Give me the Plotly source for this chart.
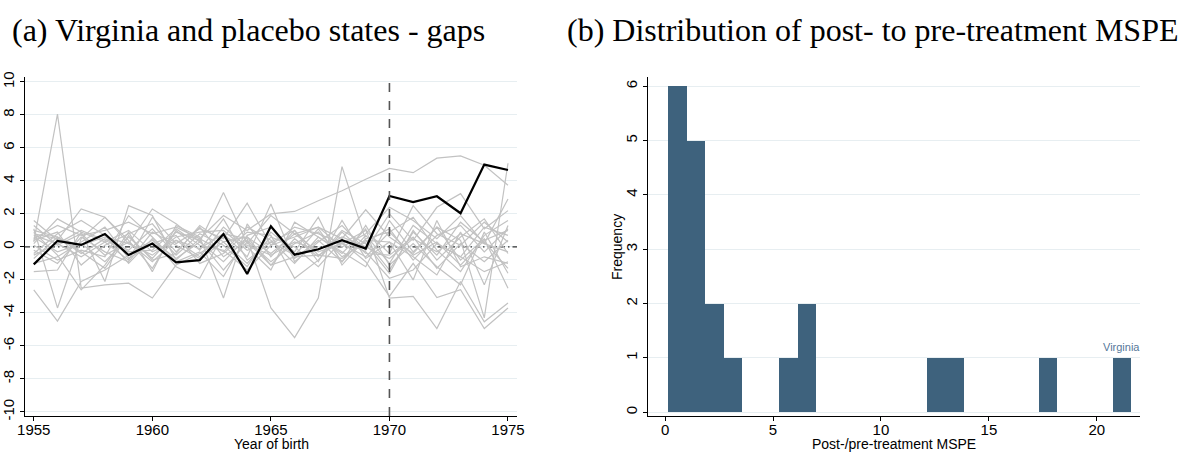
import plotly.graph_objects as go

# ---------------- data ----------------
years = list(range(1955, 1976))

virginia_gap = [-1.06, 0.37, 0.12, 0.78, -0.49, 0.20, -0.94, -0.80, 0.78, -1.64, 1.25,
                -0.47, -0.14, 0.41, -0.10, 3.09, 2.72, 3.07, 2.04, 4.99, 4.66]

placebo_gaps = {
    "s01": [0.3, 8.05, -2.5, -2.3, -2.2, -3.1, -1.1, -0.4, 0.6, 0.1, -0.5, 0.3, -0.2, 0.6, 0.0, -0.7, 0.5, -0.3, 0.8, 0.2, -0.3],
    "s02": [-2.6, -4.5, -2.1, -1.4, -0.5, 0.4, -0.7, 0.3, -0.9, 0.6, -0.4, 0.8, -0.3, 0.2, -0.6, 0.9, -0.5, 0.3, -1.1, 0.4, 1.0],
    "s03": [1.1, -3.7, 0.5, 1.8, 0.4, -1.3, 1.0, -0.2, 1.7, -0.8, 0.3, -0.5, 1.1, -0.9, 0.7, -1.0, 1.3, 0.2, -0.6, 1.2, 0.7],
    "s04": [0.7, 0.2, -0.6, 0.3, 1.0, -0.3, 0.4, -0.1, 0.8, 0.5, -3.7, -5.5, -3.1, 4.87, 0.4, -1.4, 0.9, -0.5, 1.5, 0.3, -1.3],
    "s05": [0.5, 1.3, 0.7, 1.0, 1.5, 0.8, 1.2, 0.5, 1.9, 1.0, 2.0, 2.15, 2.8, 3.4, 4.1, 4.76, 4.5, 5.38, 5.52, 4.95, 3.74],
    "s06": [1.6, 0.4, 2.3, 1.8, 0.2, 2.3, 1.4, 0.3, 3.3, 0.2, 1.9, 0.8, 1.2, 0.5, 2.25, 0.6, -0.4, 1.2, 0.4, -4.3, 5.07],
    "s07": [-1.5, -1.4, 0.9, -2.1, 2.5, 1.9, -0.8, 0.5, -0.3, 1.2, 0.4, -1.0, 0.6, -0.4, 1.1, -3.1, -3.0, -4.95, -2.1, -4.54, -3.4],
    "s08": [0.9, -0.5, -2.6, -1.1, 0.9, -1.5, 1.3, 0.6, -3.1, 1.4, -0.6, 1.0, -0.5, 0.3, -0.9, -3.0, -1.0, -3.07, -2.6, -4.95, -3.7],
    "s09": [0.2, 1.7, 0.9, 0.3, -0.8, 1.8, 0.2, 1.1, 0.5, 2.65, 0.1, 0.6, 1.2, 0.0, 0.8, 2.4, 1.6, 0.5, 1.9, 0.2, 2.9],
    "s10": [-0.4, 0.8, 1.6, 0.7, -1.0, 0.5, -1.2, -1.9, 0.8, -0.6, 2.6, -0.9, 0.3, 1.3, -0.2, 2.0, 0.4, 2.4, 3.23, 1.1, 2.2],
    "s11": [0.6, -0.3, 0.2, -0.9, 0.6, -0.7, 0.9, 0.4, -1.4, 0.3, -1.1, 0.5, -0.6, 1.0, 0.2, -1.6, 1.0, -0.8, 0.6, 1.7, -0.4],
    "s12": [-0.7, 0.6, -0.4, 0.5, -0.2, 1.1, -0.5, 0.8, 0.1, -1.2, 0.9, -0.3, 1.8, -1.1, 0.5, 0.9, 1.8, -0.2, -1.5, 0.7, 1.6],
    "s13": [1.3, 0.1, 0.8, -0.5, 0.3, -0.9, 0.4, -0.6, 1.2, 0.0, -1.4, 1.5, 0.6, -0.3, -1.2, 1.6, -0.3, 1.2, -0.8, 0.5, -2.5],
    "s14": [-1.0, -0.6, 0.3, 1.2, -0.7, 0.2, 0.7, -1.0, -0.4, 0.9, 0.7, -1.9, -0.8, 0.9, -0.4, -0.5, 0.6, -1.3, 0.2, -0.9, 0.4],
    "s15": [0.4, 0.9, -1.1, 0.1, 0.8, 1.4, -0.3, 1.2, -0.6, 0.4, -0.9, 0.2, 0.9, -0.6, 0.3, 1.1, -0.8, 0.7, 1.3, -0.3, 1.1],
    "s16": [-0.2, -1.0, 0.6, -0.3, -0.9, 0.9, 0.1, -0.7, 0.3, -1.0, 0.6, 0.0, -1.2, 0.4, -0.3, -1.9, -1.4, 0.2, -0.6, -1.5, -0.9],
    "s17": [0.8, 0.5, 0.1, 0.6, 0.2, -0.5, 0.6, 0.9, 1.0, -0.2, 0.3, 1.0, -0.9, 1.6, -0.7, 0.3, -0.6, -1.7, 0.9, -2.3, 1.3],
    "s18": [0.1, -0.8, -0.2, -0.6, 1.9, 0.6, -0.9, -0.3, -1.8, 0.7, 1.2, -0.7, 0.4, -0.9, 1.3, -1.1, 0.2, -1.2, -2.3, 0.9, -1.6],
    "s19": [-0.5, 0.2, 1.0, 0.4, -0.3, -0.2, 1.1, 0.1, -0.2, -1.4, 0.1, 1.2, 0.8, 0.2, 1.0, -0.4, 2.5, 0.8, 0.1, 1.5, 0.3],
    "s20": [1.0, 0.6, -0.3, -1.3, 0.7, -0.8, -0.4, 1.3, 0.3, 0.6, -1.1, -0.6, -0.5, -0.7, 0.4, 0.3, -2.0, 1.6, -1.2, -0.6, -1.0],
}

# histogram of post/pre-treatment MSPE ratios (bin left edges, counts)
mspe_bin_left = [0.14, 1.00, 1.86, 2.72, 5.29, 6.15, 12.15, 13.01, 17.30, 20.73]
mspe_counts = [6, 5, 2, 1, 1, 2, 1, 1, 1, 1]
mspe_bin_width = 0.858
virginia_label = "Virginia"

xticks_a = [1955, 1960, 1965, 1970, 1975]
yticks_a = [-10, -8, -6, -4, -2, 0, 2, 4, 6, 8, 10]
yticklabels_a = ["-10", "-8", "-6", "-4", "-2", "0", "2", "4", "6", "8", "10"]
xticks_b = [0, 5, 10, 15, 20]
yticks_b = [0, 1, 2, 3, 4, 5, 6]
treat_year = 1970

# ---------------- figure ----------------
W, H = 1189, 452
xa_dom = [25 / W, 517 / W]
xb_dom = [648 / W, 1140 / W]
y_dom = [(H - 416) / H, (H - 77) / H]

GRAY = "#c2c2c2"
GRID = "#e7eef1"
BAR = "#3e627d"
FONT = "Liberation Sans, Helvetica, Arial, sans-serif"

fig = go.Figure()

# zero reference line (dash-dot), under the placebo lines
fig.add_trace(go.Scatter(x=[years[0] - 0.37, years[-1] + 0.38], y=[0, 0], mode="lines",
                         line=dict(color="black", width=1, dash="5px,3px,1.5px,3px"),
                         xaxis="x", yaxis="y", showlegend=False, hoverinfo="skip"))

for name, vals in placebo_gaps.items():
    fig.add_trace(go.Scatter(x=years, y=vals, mode="lines",
                             line=dict(color=GRAY, width=1.2),
                             xaxis="x", yaxis="y", showlegend=False, hoverinfo="skip"))

fig.add_trace(go.Scatter(x=years, y=virginia_gap, mode="lines",
                         line=dict(color="black", width=2.2),
                         xaxis="x", yaxis="y", showlegend=False))

bar_centers = [b + mspe_bin_width / 2 for b in mspe_bin_left]
fig.add_trace(go.Bar(x=bar_centers, y=mspe_counts, width=mspe_bin_width,
                     marker=dict(color=BAR, line=dict(width=0)),
                     xaxis="x2", yaxis="y2", showlegend=False))

axis_common = dict(showline=True, linecolor="black", linewidth=1.2, ticks="outside",
                   ticklen=4, tickcolor="black", tickwidth=1, zeroline=False,
                   tickfont=dict(family=FONT, size=15, color="black"), automargin=False)

fig.update_layout(
    width=W, height=H,
    margin=dict(l=0, r=0, t=0, b=0),
    paper_bgcolor="white", plot_bgcolor="white",
    font=dict(family=FONT, color="black"),
    xaxis=dict(domain=xa_dom, anchor="y", range=[1954.63, 1975.38], tickvals=xticks_a,
               showgrid=False, ticklabelstandoff=-4, **axis_common),
    yaxis=dict(domain=y_dom, anchor="x", range=[-10.25, 10.3], tickvals=yticks_a,
               ticktext=yticklabels_a,
               tickangle=-90, showgrid=True, gridcolor=GRID, gridwidth=1, **axis_common),
    xaxis2=dict(domain=xb_dom, anchor="y2", range=[-0.79, 22.0], tickvals=xticks_b,
                showgrid=False, ticklabelstandoff=-4, **axis_common),
    yaxis2=dict(domain=y_dom, anchor="x2", range=[-0.07, 6.17], tickvals=yticks_b,
                tickangle=-90, showgrid=True, gridcolor=GRID, gridwidth=1,
                **axis_common),
    bargap=0,
)

fig.add_shape(type="line", xref="x", yref="paper", x0=treat_year, x1=treat_year,
              y0=y_dom[0], y1=y_dom[1], line=dict(color="#555555", width=1.6, dash="dash"))

fig.add_annotation(x=bar_centers[-1], y=1, xref="x2", yref="y2", text=virginia_label,
                   showarrow=False, yanchor="bottom", yshift=3,
                   font=dict(family=FONT, size=11, color="#56789a"))

# axis titles
fig.add_annotation(x=271 / W, y=(H - 444) / H, xref="paper", yref="paper",
                   text="Year of birth", showarrow=False, xanchor="center", yanchor="middle",
                   font=dict(family=FONT, size=14, color="black"))
fig.add_annotation(x=894 / W, y=(H - 444) / H, xref="paper", yref="paper",
                   text="Post-/pre-treatment MSPE", showarrow=False, xanchor="center",
                   yanchor="middle", font=dict(family=FONT, size=14, color="black"))
fig.add_annotation(x=617 / W, y=(H - 247) / H, xref="paper", yref="paper",
                   text="Frequency", showarrow=False, xanchor="center", yanchor="middle",
                   textangle=-90, font=dict(family=FONT, size=14, color="black"))

TITLE_FONT = "Liberation Serif, Times New Roman, serif"
fig.add_annotation(x=10 / W, y=(H - 30) / H, xref="paper", yref="paper",
                   text="(a) Virginia and placebo states - gaps", showarrow=False,
                   xanchor="left", yanchor="middle",
                   font=dict(family=TITLE_FONT, size=32, color="black"))
fig.add_annotation(x=565 / W, y=(H - 30) / H, xref="paper", yref="paper",
                   text="(b) Distribution of post- to pre-treatment MSPE", showarrow=False,
                   xanchor="left", yanchor="middle",
                   font=dict(family=TITLE_FONT, size=32, color="black"))

fig.write_html("out.html")
